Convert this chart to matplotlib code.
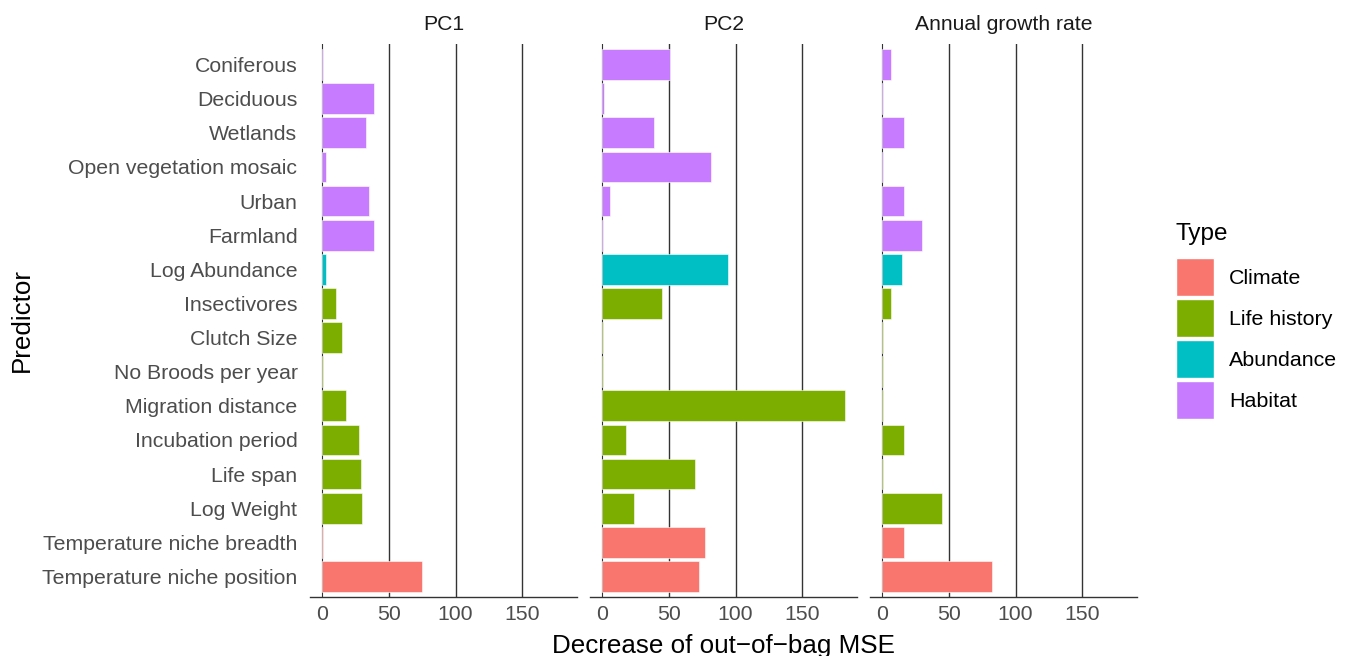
import numpy as np
import matplotlib
matplotlib.use("Agg")
import matplotlib.pyplot as plt
from matplotlib.patches import Patch

plt.rcParams['font.family'] = ['Liberation Sans', 'DejaVu Sans']

# Data
predictors = [
    'Coniferous', 'Deciduous', 'Wetlands', 'Open vegetation mosaic', 'Urban',
    'Farmland', 'Log Abundance', 'Insectivores', 'Clutch Size',
    'No Broods per year', 'Migration distance', 'Incubation period',
    'Life span', 'Log Weight', 'Temperature niche breadth',
    'Temperature niche position',
]
types = ['Habitat'] * 6 + ['Abundance'] + ['Life history'] * 7 + ['Climate'] * 2

pc1 = [0.5, 38.6, 32.9, 3.0, 35.4, 38.6, 3.0, 10.2, 14.6, 0.3, 17.9, 27.7,
       28.9, 29.6, 0.3, 75.0]
pc2 = [51.2, 1.5, 39.0, 81.8, 6.2, 0.3, 94.5, 45.0, 0.3, 0.3, 182.0, 17.6,
       69.5, 23.6, 77.1, 72.6]
growth = [6.4, 0.5, 16.1, 0.5, 16.1, 29.6, 14.6, 6.4, 0.3, 0.3, 0.3, 16.1,
          0.3, 45.2, 16.1, 82.6]

panels = ['PC1', 'PC2', 'Annual growth rate']
panel_values = [pc1, pc2, growth]

type_order = ['Climate', 'Life history', 'Abundance', 'Habitat']
type_colors = {'Climate': '#F8766D', 'Life history': '#7CAE00',
               'Abundance': '#00BFC4', 'Habitat': '#C77CFF'}

W, H = 1349, 656
fig = plt.figure(figsize=(W / 100, H / 100), dpi=100)

grid_col = '#333333'
tick_col = '#4D4D4D'
y = np.arange(len(predictors))
lefts = [310, 590, 870]
pw, top, bottom = 267, 44, 597

for i, (name, vals) in enumerate(zip(panels, panel_values)):
    ax = fig.add_axes([lefts[i] / W, 1 - bottom / H, pw / W, (bottom - top) / H])
    for xv in [0, 50, 100, 150]:
        ax.axvline(xv, color=grid_col, lw=1.0 if xv else 0.8, zorder=0)
    ax.barh(y, vals, height=0.9, color=[type_colors[t] for t in types],
            edgecolor='white', linewidth=0.4, zorder=2)
    ax.set_xlim(-9.15, 191.1)
    ax.set_ylim(15.6, -0.6)
    ax.set_xticks([0, 50, 100, 150])
    ax.tick_params(axis='x', length=0, pad=6, labelsize=15.3, labelcolor=tick_col)
    ax.tick_params(axis='y', length=0, pad=9, labelsize=15.3, labelcolor=tick_col)
    if i == 0:
        ax.set_yticks(y)
        ax.set_yticklabels(predictors)
    else:
        ax.set_yticks([])
    for s in ['top', 'right', 'left']:
        ax.spines[s].set_visible(False)
    ax.spines['bottom'].set_color(grid_col)
    ax.spines['bottom'].set_linewidth(1.0)
    ax.set_title(name, fontsize=15.2, pad=10, color='#1A1A1A')

fig.text(723 / W, 1 - 646 / H, 'Decrease of out\u2212of\u2212bag MSE',
         ha='center', va='center', fontsize=18.7)
fig.text(22 / W, 1 - 320 / H, 'Predictor', ha='center', va='center',
         rotation=90, fontsize=18.7)

# legend: title drawn separately to get ggplot-like spacing
fig.text(1176 / W, 1 - 234 / H, 'Type', ha='left', va='center', fontsize=17.5)
handles = [Patch(facecolor=type_colors[t], edgecolor='white', label=t)
           for t in type_order]
fig.legend(handles=handles, loc='upper left',
           bbox_to_anchor=(1176 / W, 1 - 258 / H), frameon=False,
           fontsize=15.4, handlelength=1.78,
           handleheight=2.36, handletextpad=0.7, labelspacing=0.14,
           borderaxespad=0, borderpad=0)

fig.savefig('out.png', dpi=100)
